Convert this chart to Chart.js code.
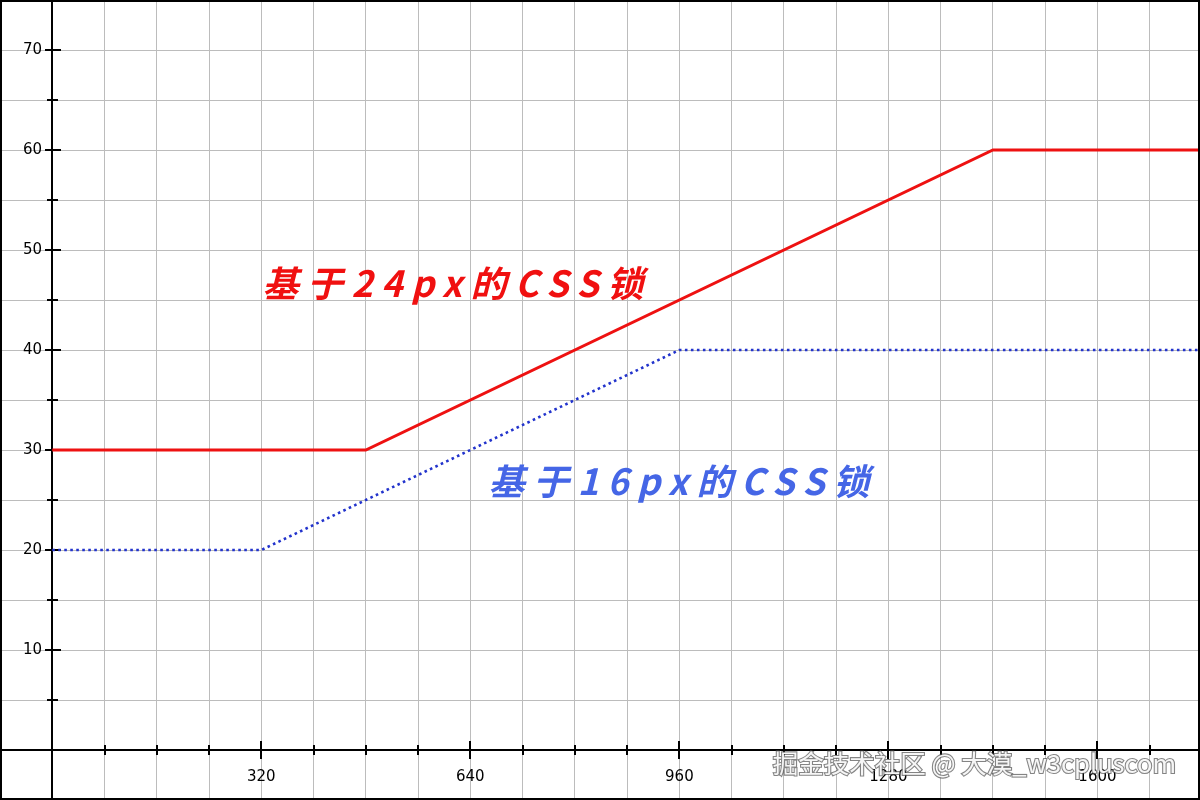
<!DOCTYPE html>
<html>
<head>
<meta charset="utf-8">
<script src="https://cdn.jsdelivr.net/npm/chart.js@4.4.1/dist/chart.umd.min.js"></script>
<style>
html,body{margin:0;padding:0;background:#fff;}
#wrap{width:1200px;height:800px;position:relative;}
canvas{display:block;}
</style>
</head>
<body>
<div id="wrap"><canvas id="c" width="1200" height="800"></canvas></div>
<script>
// ---- data ----
const lock24X = [0, 480, 1440, 1760];
const lock24Y = [30, 30, 60, 60];
const lock16X = [0, 320, 960, 1760];
const lock16Y = [20, 20, 40, 40];
const xTickLabels = [320, 640, 960, 1280, 1600];
const xMinorTicks = [80, 160, 240, 400, 480, 560, 720, 800, 880, 1040, 1120, 1200, 1360, 1440, 1520, 1680];
const yTickLabels = [10, 20, 30, 40, 50, 60, 70];
const yMinorTicks = [5, 15, 25, 35, 45, 55, 65];
const label24 = '基于24px的CSS锁';
const label16 = '基于16px的CSS锁';
const label24Pos = [322, 45.3];
const label16Pos = [668, 25.5];
const watermark = '掘金技术社区 @ 大漠_w3cpluscom';

const toPts = (xs, ys) => xs.map((x, i) => ({x: x, y: ys[i]}));

const axesPlugin = {
  id: 'axesPlugin',
  beforeDatasetsDraw(chart) {
    const ctx = chart.ctx;
    const xs = chart.scales.x, ys = chart.scales.y;
    const x0 = Math.round(xs.getPixelForValue(0));
    const y0 = Math.round(ys.getPixelForValue(0));
    ctx.save();
    ctx.strokeStyle = '#000';
    ctx.lineWidth = 2;
    ctx.beginPath();
    ctx.moveTo(x0, 0); ctx.lineTo(x0, chart.height);
    ctx.moveTo(0, y0); ctx.lineTo(chart.width, y0);
    yTickLabels.forEach(v => { const p = Math.round(ys.getPixelForValue(v)); ctx.moveTo(x0 - 7, p); ctx.lineTo(x0 + 9, p); });
    yMinorTicks.forEach(v => { const p = Math.round(ys.getPixelForValue(v)); ctx.moveTo(x0 - 5, p); ctx.lineTo(x0 + 6, p); });
    xTickLabels.forEach(v => { const p = Math.round(xs.getPixelForValue(v)); ctx.moveTo(p, y0 - 9); ctx.lineTo(p, y0 + 9); });
    xMinorTicks.forEach(v => { const p = Math.round(xs.getPixelForValue(v)); ctx.moveTo(p, y0 - 5); ctx.lineTo(p, y0 + 5); });
    ctx.stroke();
    ctx.fillStyle = '#000';
    ctx.font = '15px "DejaVu Sans"';
    ctx.textAlign = 'right'; ctx.textBaseline = 'middle';
    yTickLabels.forEach(v => ctx.fillText(String(v), x0 - 10, ys.getPixelForValue(v)));
    ctx.textAlign = 'center'; ctx.textBaseline = 'middle';
    xTickLabels.forEach(v => ctx.fillText(String(v), xs.getPixelForValue(v), y0 + 27));
    ctx.restore();
  },
  afterDraw(chart) {
    const ctx = chart.ctx;
    const xs = chart.scales.x, ys = chart.scales.y;
    ctx.save();
    ctx.font = 'italic bold 36px "Noto Sans CJK SC"';
    ctx.letterSpacing = '8.5px';
    ctx.textAlign = 'left'; ctx.textBaseline = 'alphabetic';
    ctx.fillStyle = '#f01010';
    ctx.fillText(label24, xs.getPixelForValue(label24Pos[0]), ys.getPixelForValue(label24Pos[1]));
    ctx.fillStyle = '#4566e6';
    ctx.fillText(label16, xs.getPixelForValue(label16Pos[0]), ys.getPixelForValue(label16Pos[1]));
    // watermark
    ctx.letterSpacing = '0px';
    ctx.font = '25.5px "Noto Sans CJK SC"';
    ctx.textAlign = 'right'; ctx.textBaseline = 'middle';
    ctx.lineWidth = 2.2;
    ctx.strokeStyle = 'rgba(80,80,80,0.7)';
    ctx.strokeText(watermark, 1176, 763);
    ctx.fillStyle = '#f6f6f6';
    ctx.fillText(watermark, 1176, 763);
    // frame
    ctx.strokeStyle = '#000';
    ctx.lineWidth = 2;
    ctx.strokeRect(1, 1, chart.width - 2, chart.height - 2);
    ctx.restore();
  }
};

function fixedTicks(start, end, step) {
  return function(scale) {
    const t = [];
    for (let v = start; v <= end + 1e-9; v += step) t.push({value: v});
    scale.ticks = t;
  };
}

new Chart(document.getElementById('c'), {
  type: 'line',
  data: {
    datasets: [
      {
        label: '24px',
        data: toPts(lock24X, lock24Y),
        borderColor: '#ee1111',
        borderWidth: 3,
        pointRadius: 0,
        fill: false,
        tension: 0
      },
      {
        label: '16px',
        data: toPts(lock16X, lock16Y),
        borderColor: '#2233cc',
        borderWidth: 2.6,
        borderDash: [2.6, 3.4],
        pointRadius: 0,
        fill: false,
        tension: 0
      }
    ]
  },
  options: {
    responsive: false,
    animation: false,
    devicePixelRatio: 1,
    layout: {padding: 0},
    plugins: {legend: {display: false}, tooltip: {enabled: false}},
    scales: {
      x: {
        type: 'linear', min: -80, max: 1757,
        afterBuildTicks: fixedTicks(-80, 1757, 80),
        ticks: {display: false},
        grid: {color: '#bcbcbc', lineWidth: 1, drawTicks: false},
        border: {display: false}
      },
      y: {
        type: 'linear', min: -5, max: 75,
        afterBuildTicks: fixedTicks(-5, 75, 5),
        ticks: {display: false},
        grid: {color: '#bcbcbc', lineWidth: 1, drawTicks: false},
        border: {display: false}
      }
    }
  },
  plugins: [axesPlugin]
});
</script>
</body>
</html>
